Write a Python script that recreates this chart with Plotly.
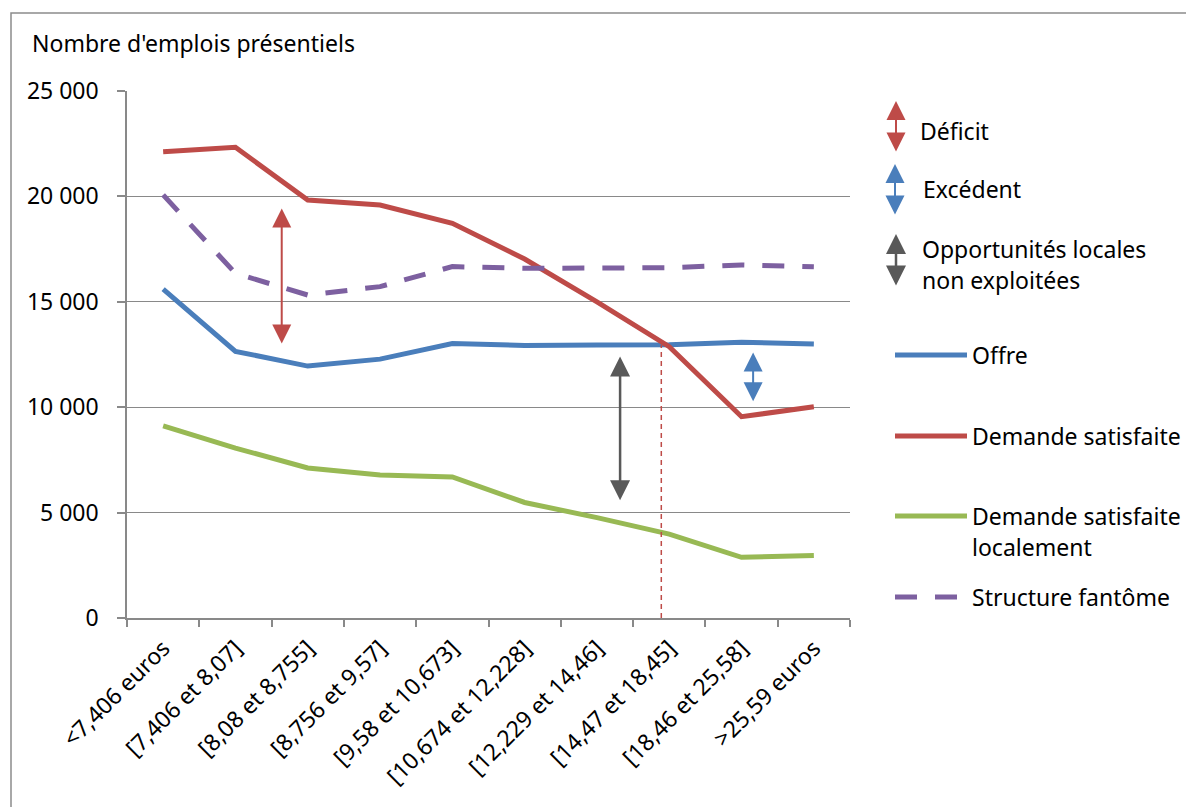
import plotly.graph_objects as go

# categories (hourly wage brackets)
categories = ["<7,406 euros", "[7,406 et 8,07]", "[8,08 et 8,755]", "[8,756 et 9,57]",
              "[9,58 et 10,673]", "[10,674 et 12,228]", "[12,229 et 14,46]",
              "[14,47 et 18,45]", "[18,46 et 25,58]", ">25,59 euros"]

offre = [15600, 12650, 11950, 12280, 13020, 12930, 12950, 12960, 13080, 13000]
demande = [22120, 22330, 19830, 19590, 18720, 17030, 15000, 12870, 9550, 10020]
demande_locale = [9110, 8060, 7120, 6780, 6690, 5480, 4760, 3980, 2880, 2960]
fantome = [20070, 16350, 15320, 15720, 16670, 16590, 16600, 16620, 16750, 16660]

y_ticks = [0, 5000, 10000, 15000, 20000, 25000]
y_labels = ["0", "5 000", "10 000", "15 000", "20 000", "25 000"]

BLUE = "#4A7EBB"
RED = "#BE4B48"
GREEN = "#98B954"
PURPLE = "#7D60A0"
DARK = "#595959"
GRID = "#898989"
FONT = "Noto Sans"
FS = 23
LW = 5

# the page body has an 8px margin, so work in figure coords = page coords - 8
OFF = 8
W, H = 1194 - OFF, 807 - OFF
L, R, T, B = 127 - OFF, 850 - OFF, 91 - OFF, 618 - OFF   # plot area


def px(xp):
    return (xp - OFF - L) / (R - L)


def py(yp):
    return (B - (yp - OFF)) / (B - T)


fig = go.Figure()
fig.add_trace(go.Scatter(x=categories, y=offre, name="Offre", mode="lines",
                         line=dict(color=BLUE, width=LW)))
fig.add_trace(go.Scatter(x=categories, y=demande, name="Demande satisfaite", mode="lines",
                         line=dict(color=RED, width=LW)))
fig.add_trace(go.Scatter(x=categories, y=demande_locale, name="Demande satisfaite localement",
                         mode="lines", line=dict(color=GREEN, width=LW)))
fig.add_trace(go.Scatter(x=categories, y=fantome, name="Structure fantôme", mode="lines",
                         line=dict(color=PURPLE, width=LW, dash="22px,18px")))

annotations = []
shapes = []

# in-plot double arrows
def double_arrow(x, y_top, y_bot, color, width=2.0, size=1.9):
    annotations.append(dict(x=x, y=y_top, ax=x, ay=y_bot, xref="x", yref="y",
                            axref="x", ayref="y", text="", showarrow=True,
                            arrowhead=2, startarrowhead=2, arrowside="end+start",
                            arrowsize=size, startarrowsize=size,
                            arrowwidth=width, arrowcolor=color))

double_arrow(1.64, 19430, 12950, RED)
double_arrow(6.32, 12400, 5520, DARK, 2.5, 1.6)
double_arrow(8.16, 12590, 10210, BLUE)

# crossing point marker
shapes.append(dict(type="line", xref="x", yref="y", x0=6.89, x1=6.89, y0=0, y1=12950,
                   line=dict(color=RED, width=1.5, dash="5px,4px")))

# arrow key on the right
def key_arrow(xp, ytop, ybot, color, width=2.0, size=1.9):
    annotations.append(dict(x=px(xp), y=py(ytop), xref="paper", yref="paper",
                            ax=0, ay=ybot - ytop, text="", showarrow=True,
                            arrowhead=2, startarrowhead=2, arrowside="end+start",
                            arrowsize=size, startarrowsize=size,
                            arrowwidth=width, arrowcolor=color))

def key_text(xp, yp, text):
    annotations.append(dict(x=px(xp), y=py(yp), xref="paper", yref="paper", text=text,
                            showarrow=False, xanchor="left", yanchor="middle",
                            align="left", font=dict(family=FONT, size=FS, color="black")))

key_arrow(896, 101, 153, RED)
key_text(918, 131, "Déficit")
key_arrow(895, 164, 216, BLUE)
key_text(921, 189, "Excédent")
key_arrow(896, 234, 287, DARK, 2.5, 1.6)
key_text(920, 249, "Opportunités locales")
key_text(920, 280, "non exploitées")

# line key
key_items = [(355, BLUE, "solid", ["Offre"]),
             (436, RED, "solid", ["Demande satisfaite"]),
             (516, GREEN, "solid", ["Demande satisfaite", "localement"]),
             (597, PURPLE, "22px,18px", ["Structure fantôme"])]
for yk, col, dash, lines in key_items:
    shapes.append(dict(type="line", xref="paper", yref="paper", x0=px(895), x1=px(967),
                       y0=py(yk), y1=py(yk), line=dict(color=col, width=LW, dash=dash)))
    for i, t in enumerate(lines):
        key_text(970, yk + 31 * i, t)

# y axis title
annotations.append(dict(x=px(30), y=py(43), xref="paper", yref="paper",
                        text="Nombre d'emplois présentiels", showarrow=False,
                        xanchor="left", yanchor="middle",
                        font=dict(family=FONT, size=FS, color="black")))

# outer frame
shapes.append(dict(type="rect", xref="paper", yref="paper", x0=px(11), x1=px(1210),
                   y0=py(840), y1=py(13), line=dict(color="#8C8C8C", width=1.5),
                   layer="below"))

fig.update_layout(
    width=W, height=H,
    margin=dict(l=L, r=W - R, t=T, b=H - B),
    paper_bgcolor="white", plot_bgcolor="white",
    showlegend=False,
    font=dict(family=FONT, size=FS, color="black"),
    annotations=annotations, shapes=shapes,
)
fig.update_xaxes(type="category", categoryorder="array", categoryarray=categories,
                 range=[-0.5, 9.5], tickangle=-45, showgrid=False,
                 showline=True, linecolor=GRID, linewidth=1.5,
                 ticks="outside", tickson="boundaries", ticklen=7,
                 tickcolor=GRID, tickwidth=1.5, ticklabelstandoff=6)
fig.update_yaxes(range=[0, 25000], tickvals=y_ticks, ticktext=y_labels,
                 showgrid=True, gridcolor=GRID, gridwidth=1.3, zeroline=False,
                 showline=True, linecolor=GRID, linewidth=1.5,
                 ticks="outside", ticklen=8, tickcolor=GRID, tickwidth=1.5,
                 ticklabelstandoff=14)

fig.write_html("out.html")
